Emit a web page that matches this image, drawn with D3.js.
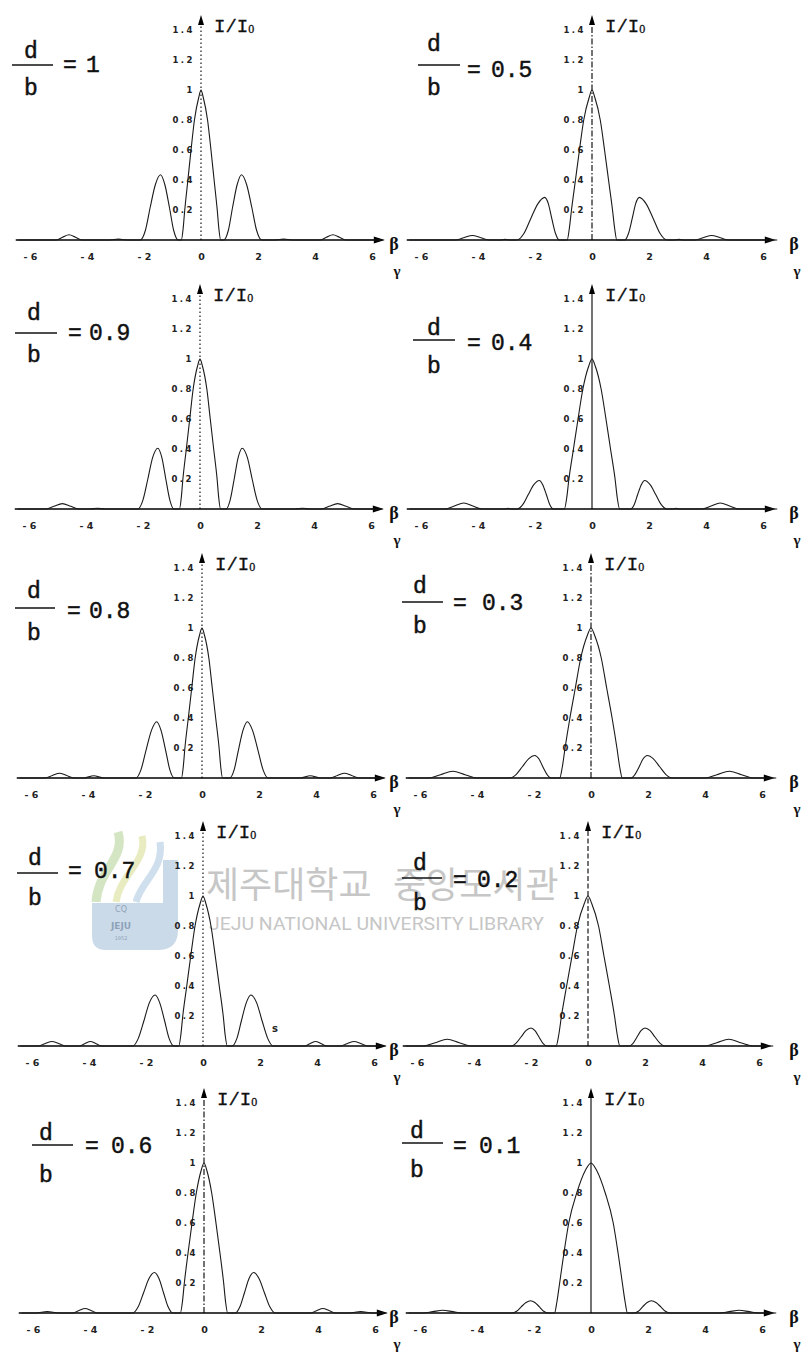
<!DOCTYPE html>
<html>
<head>
<meta charset="utf-8">
<script src="https://cdn.jsdelivr.net/npm/d3@7/dist/d3.min.js"></script>
<style>
  html, body { margin: 0; padding: 0; background: #fff; }
  svg { display: block; }
</style>
</head>
<body>
<svg id="chart" width="807" height="1358"></svg>
<script>
// ---- data -------------------------------------------------------------
// slit ratio d/b shown in each panel (row by row, left then right)
const ratios = ["1", "0.5", "0.9", "0.4", "0.8", "0.3", "0.7", "0.2", "0.6", "0.1"];

// shared axis ticks
const xTicks = [-6, -4, -2, 0, 2, 4, 6];
const yTicks = [0.2, 0.4, 0.6, 0.8, 1, 1.2, 1.4];
const yTickLabels = ["0.2", "0.4", "0.6", "0.8", "1", "1.2", "1.4"];

// intensity profiles I/I0 against beta, one per ratio
const curve_10 = [[-6.4,0],[-5.1,0],[-4.86,0.018],[-4.63,0.035],[-4.4,0.018],[-4.16,0],[-3.2,0],[-2.9,0.006],[-2.6,0],[-2.13,0],[-1.95,0.065],[-1.78,0.22],[-1.6,0.37],[-1.42,0.435],[-1.27,0.37],[-1.11,0.22],[-0.96,0.065],[-0.8,0],[-0.69,0],[-0.63,0.07],[-0.57,0.2],[-0.46,0.4],[-0.35,0.6],[-0.23,0.8],[-0.08,0.95],[0,1],[0.08,0.95],[0.23,0.8],[0.35,0.6],[0.46,0.4],[0.57,0.2],[0.63,0.07],[0.69,0],[0.8,0],[0.96,0.065],[1.11,0.22],[1.27,0.37],[1.42,0.435],[1.6,0.37],[1.78,0.22],[1.95,0.065],[2.13,0],[2.6,0],[2.9,0.006],[3.2,0],[4.16,0],[4.4,0.018],[4.63,0.035],[4.86,0.018],[5.1,0],[6.4,0]];

const curve_05 = [[-6.4,0],[-4.8,0],[-4.5,0.015],[-4.2,0.03],[-3.9,0.015],[-3.6,0],[-3.25,0],[-3.05,0.004],[-2.85,0],[-2.63,0],[-2.39,0.043],[-2.15,0.142],[-1.9,0.241],[-1.66,0.284],[-1.53,0.241],[-1.41,0.142],[-1.28,0.043],[-1.15,0],[-0.87,0],[-0.8,0.07],[-0.72,0.2],[-0.58,0.4],[-0.44,0.6],[-0.29,0.8],[-0.1,0.95],[0,1],[0.1,0.95],[0.29,0.8],[0.44,0.6],[0.58,0.4],[0.72,0.2],[0.8,0.07],[0.87,0],[1.15,0],[1.28,0.043],[1.41,0.142],[1.53,0.241],[1.66,0.284],[1.9,0.241],[2.15,0.142],[2.39,0.043],[2.63,0],[2.85,0],[3.05,0.004],[3.25,0],[3.6,0],[3.9,0.015],[4.2,0.03],[4.5,0.015],[4.8,0],[6.5,0]];

const curve_09 = [[-6.4,0],[-5.43,0],[-5.13,0.018],[-4.83,0.036],[-4.53,0.018],[-4.23,0],[-3.85,0],[-3.6,0.005],[-3.35,0],[-2.18,0],[-2.0,0.061],[-1.83,0.2],[-1.66,0.344],[-1.48,0.405],[-1.34,0.344],[-1.2,0.2],[-1.06,0.061],[-0.92,0],[-0.72,0],[-0.66,0.07],[-0.6,0.2],[-0.48,0.4],[-0.36,0.6],[-0.24,0.8],[-0.09,0.95],[0,1],[0.09,0.95],[0.24,0.8],[0.36,0.6],[0.48,0.4],[0.6,0.2],[0.66,0.07],[0.72,0],[0.92,0],[1.06,0.061],[1.2,0.2],[1.34,0.344],[1.48,0.405],[1.66,0.344],[1.83,0.2],[2.0,0.061],[2.18,0],[3.35,0],[3.6,0.005],[3.85,0],[4.23,0],[4.53,0.018],[4.83,0.036],[5.13,0.018],[5.43,0],[6.4,0]];

const curve_04 = [[-6.4,0],[-5.15,0],[-4.83,0.02],[-4.5,0.04],[-4.18,0.02],[-3.85,0],[-3.1,0],[-2.95,0.004],[-2.8,0],[-2.62,0],[-2.43,0.029],[-2.24,0.095],[-2.04,0.162],[-1.85,0.19],[-1.73,0.162],[-1.6,0.095],[-1.48,0.029],[-1.35,0],[-0.97,0],[-0.89,0.07],[-0.81,0.2],[-0.65,0.4],[-0.49,0.6],[-0.32,0.8],[-0.12,0.95],[0,1],[0.12,0.95],[0.32,0.8],[0.49,0.6],[0.65,0.4],[0.81,0.2],[0.89,0.07],[0.97,0],[1.35,0],[1.48,0.029],[1.6,0.095],[1.73,0.162],[1.85,0.19],[2.04,0.162],[2.24,0.095],[2.43,0.029],[2.62,0],[2.8,0],[2.95,0.004],[3.1,0],[3.85,0],[4.18,0.02],[4.5,0.04],[4.83,0.02],[5.15,0],[6.5,0]];

const curve_08 = [[-6.4,0],[-5.5,0],[-5.25,0.016],[-5.0,0.032],[-4.75,0.016],[-4.5,0],[-4.15,0],[-3.8,0.015],[-3.45,0],[-2.32,0],[-2.14,0.056],[-1.96,0.188],[-1.77,0.319],[-1.59,0.375],[-1.44,0.319],[-1.28,0.188],[-1.13,0.056],[-0.97,0],[-0.72,0],[-0.66,0.07],[-0.6,0.2],[-0.48,0.4],[-0.36,0.6],[-0.24,0.8],[-0.09,0.95],[0,1],[0.09,0.95],[0.24,0.8],[0.36,0.6],[0.48,0.4],[0.6,0.2],[0.66,0.07],[0.72,0],[0.97,0],[1.13,0.056],[1.28,0.188],[1.44,0.319],[1.59,0.375],[1.77,0.319],[1.96,0.188],[2.14,0.056],[2.32,0],[3.45,0],[3.8,0.015],[4.15,0],[4.5,0],[4.75,0.016],[5.0,0.032],[5.25,0.016],[5.5,0],[6.4,0]];

const curve_03 = [[-6.4,0],[-5.7,0],[-5.28,0.022],[-4.85,0.045],[-4.42,0.022],[-4.0,0],[-2.85,0],[-2.63,0.023],[-2.41,0.075],[-2.19,0.128],[-1.97,0.15],[-1.83,0.128],[-1.69,0.075],[-1.54,0.023],[-1.4,0],[-1.1,0],[-1.01,0.07],[-0.91,0.2],[-0.74,0.4],[-0.55,0.6],[-0.36,0.8],[-0.13,0.95],[0,1],[0.13,0.95],[0.36,0.8],[0.55,0.6],[0.74,0.4],[0.91,0.2],[1.01,0.07],[1.1,0],[1.4,0],[1.54,0.023],[1.69,0.075],[1.83,0.128],[1.97,0.15],[2.19,0.128],[2.41,0.075],[2.63,0.023],[2.85,0],[4.0,0],[4.42,0.022],[4.85,0.045],[5.28,0.022],[5.7,0],[6.5,0]];

const curve_07 = [[-6.4,0],[-5.8,0],[-5.55,0.015],[-5.3,0.03],[-5.05,0.015],[-4.8,0],[-4.35,0],[-4.15,0.015],[-3.95,0.03],[-3.75,0.015],[-3.55,0],[-2.46,0],[-2.27,0.051],[-2.07,0.17],[-1.88,0.289],[-1.68,0.34],[-1.52,0.289],[-1.35,0.17],[-1.19,0.051],[-1.02,0],[-0.85,0],[-0.78,0.07],[-0.71,0.2],[-0.57,0.4],[-0.43,0.6],[-0.28,0.8],[-0.1,0.95],[0,1],[0.1,0.95],[0.28,0.8],[0.43,0.6],[0.57,0.4],[0.71,0.2],[0.78,0.07],[0.85,0],[1.02,0],[1.19,0.051],[1.35,0.17],[1.52,0.289],[1.68,0.34],[1.88,0.289],[2.07,0.17],[2.27,0.051],[2.46,0],[3.55,0],[3.75,0.015],[3.95,0.03],[4.15,0.015],[4.35,0],[4.8,0],[5.05,0.015],[5.3,0.03],[5.55,0.015],[5.8,0],[6.4,0]];

const curve_02 = [[-6.4,0],[-5.8,0],[-5.36,0.022],[-4.94,0.045],[-4.52,0.022],[-4.1,0],[-2.7,0],[-2.53,0.018],[-2.35,0.06],[-2.18,0.102],[-2.0,0.12],[-1.86,0.102],[-1.72,0.06],[-1.58,0.018],[-1.44,0],[-1.12,0],[-1.03,0.07],[-0.93,0.2],[-0.75,0.4],[-0.56,0.6],[-0.37,0.8],[-0.13,0.95],[0,1],[0.13,0.95],[0.37,0.8],[0.56,0.6],[0.75,0.4],[0.93,0.2],[1.03,0.07],[1.12,0],[1.44,0],[1.58,0.018],[1.72,0.06],[1.86,0.102],[2.0,0.12],[2.18,0.102],[2.35,0.06],[2.53,0.018],[2.7,0],[4.1,0],[4.52,0.022],[4.94,0.045],[5.36,0.022],[5.8,0],[6.5,0]];

const curve_06 = [[-6.4,0],[-5.9,0],[-5.5,0.01],[-5.1,0],[-4.62,0],[-4.4,0.015],[-4.17,0.03],[-3.95,0.015],[-3.72,0],[-2.5,0],[-2.31,0.041],[-2.12,0.135],[-1.93,0.23],[-1.74,0.27],[-1.58,0.23],[-1.42,0.135],[-1.26,0.041],[-1.1,0],[-0.83,0],[-0.76,0.07],[-0.69,0.2],[-0.56,0.4],[-0.42,0.6],[-0.27,0.8],[-0.1,0.95],[0,1],[0.1,0.95],[0.27,0.8],[0.42,0.6],[0.56,0.4],[0.69,0.2],[0.76,0.07],[0.83,0],[1.1,0],[1.26,0.041],[1.42,0.135],[1.58,0.23],[1.74,0.27],[1.93,0.23],[2.12,0.135],[2.31,0.041],[2.5,0],[3.72,0],[3.95,0.015],[4.17,0.03],[4.4,0.015],[4.62,0],[5.1,0],[5.5,0.01],[5.9,0],[6.4,0]];

const curve_01 = [[-6.4,0],[-5.9,0],[-5.55,0.009],[-5.2,0.018],[-4.85,0.009],[-4.5,0],[-2.77,0],[-2.61,0.012],[-2.45,0.041],[-2.28,0.07],[-2.12,0.082],[-1.97,0.07],[-1.81,0.041],[-1.66,0.012],[-1.5,0],[-1.28,0],[-1.2,0.07],[-1.1,0.2],[-0.95,0.4],[-0.78,0.6],[-0.5,0.8],[-0.2,0.95],[0,1],[0.2,0.95],[0.5,0.8],[0.78,0.6],[0.95,0.4],[1.1,0.2],[1.2,0.07],[1.28,0],[1.5,0],[1.66,0.012],[1.81,0.041],[1.97,0.07],[2.12,0.082],[2.28,0.07],[2.45,0.041],[2.61,0.012],[2.77,0],[4.5,0],[4.85,0.009],[5.2,0.018],[5.55,0.009],[5.9,0],[6.5,0]];

const curves = [curve_10, curve_05, curve_09, curve_04, curve_08, curve_03, curve_07, curve_02, curve_06, curve_01];

// ---- layout -----------------------------------------------------------
const rowBase = [240, 509, 778, 1046, 1313];          // pixel row of I = 0
const centerX = [201, 592, 200, 592, 202, 591, 203, 588, 204, 591]; // pixel column of beta = 0
const pxPerUnit = 28.5;
const pxPerIntensity = 150;
// dash pattern of the vertical axis in each panel
const yAxisDash = ["1.5,2.5", "6,2,1.5,2", "1.5,2.5", null, "1.5,2.5", "6,2,1.5,2", "1.5,2.5", "5,2.5", "6,2,1.5,2", null];
// fraction label: [letterX, lineX1, lineX2, lineY, dBaseline, bBaseline, eqX, valX, valBaseline]
const fracPos = [
  [31, 12, 53, 65, 58, 95, 63, 86, 72],
  [434, 418, 460, 65, 51, 95, 467, 491, 77],
  [34, 15, 57, 333, 320, 362, 68, 89, 340],
  [434, 413, 455, 340, 335, 373, 467, 491, 350],
  [34, 15, 55, 608, 598, 640, 67, 89, 618],
  [420, 402, 443, 602, 593, 633, 453, 482, 610],
  [35, 17, 58, 873, 865, 905, 68, 94, 878],
  [420, 402, 442, 878, 870, 910, 453, 477, 887],
  [46, 32, 73, 1145, 1140, 1182, 85, 111, 1153],
  [417, 402, 443, 1143, 1138, 1177, 453, 479, 1153]
];

const svg = d3.select("#chart");
svg.append("rect").attr("width", 807).attr("height", 1358).attr("fill", "#fff");

// ---- library watermark (behind the plots) -----------------------------
const wm = svg.append("g").attr("class", "watermark");
wm.append("path")
  .attr("d", "M163,860 L178,860 L178,930 Q178,950 158,950 L106,950 Q92,950 92,936 L92,903 L163,903 Z")
  .attr("fill", "#b9cde0").attr("opacity", 0.75);
wm.append("path").attr("d", "M96,902 C98,870 126,858 118,832")
  .attr("fill", "none").attr("stroke", "#c9dfb4").attr("stroke-width", 9).attr("opacity", 0.8);
wm.append("path").attr("d", "M116,902 C120,874 148,862 142,836")
  .attr("fill", "none").attr("stroke", "#e3e7b0").attr("stroke-width", 7).attr("opacity", 0.8);
wm.append("path").attr("d", "M136,902 C142,880 164,870 160,842")
  .attr("fill", "none").attr("stroke", "#c3d7e8").attr("stroke-width", 7).attr("opacity", 0.8);
wm.append("text").attr("x", 121).attr("y", 912).attr("text-anchor", "middle")
  .attr("font-family", "DejaVu Sans").attr("font-size", 8).attr("fill", "#8ea3ba").text("CQ");
wm.append("text").attr("x", 121).attr("y", 929).attr("text-anchor", "middle")
  .attr("font-family", "DejaVu Sans").attr("font-weight", "bold").attr("font-size", 9).attr("fill", "#8ea3ba").text("JEJU");
wm.append("text").attr("x", 121).attr("y", 940).attr("text-anchor", "middle")
  .attr("font-family", "DejaVu Sans").attr("font-size", 5).attr("fill", "#8ea3ba").text("1952");
wm.append("text").attr("x", 206).attr("y", 898)
  .attr("font-family", "Noto Sans CJK KR").attr("font-size", 36).attr("fill", "#c6c6c6").text("제주대학교");
wm.append("text").attr("x", 393).attr("y", 898)
  .attr("font-family", "Noto Sans CJK KR").attr("font-size", 36).attr("fill", "#c6c6c6").text("중앙도서관");
wm.append("text").attr("x", 209).attr("y", 930)
  .attr("font-family", "Roboto").attr("font-size", 19).attr("fill", "#c6c6c6")
  .attr("textLength", 335).attr("lengthAdjust", "spacingAndGlyphs")
  .text("JEJU NATIONAL UNIVERSITY LIBRARY");

// ---- panels -----------------------------------------------------------
const monoFont = "'Liberation Mono', 'Courier New', monospace";

ratios.forEach((ratio, i) => {
  const row = Math.floor(i / 2), col = i % 2;
  const base = rowBase[row];
  const cx = centerX[i];
  const x = d3.scaleLinear().domain([-6, 6]).range([cx - 6 * pxPerUnit, cx + 6 * pxPerUnit]);
  const y = d3.scaleLinear().domain([0, 1.5]).range([base, base - 1.5 * pxPerIntensity]);
  const g = svg.append("g").attr("class", "panel");

  // horizontal axis with arrow
  const xa = g.append("g").attr("transform", `translate(0,${base})`)
    .call(d3.axisBottom(x).tickValues(xTicks).tickSize(0).tickPadding(13)
      .tickFormat(d => d < 0 ? "- " + Math.abs(d) : String(d)));
  xa.select(".domain").remove();
  xa.selectAll("text")
    .attr("font-family", "DejaVu Sans").attr("font-weight", "bold")
    .attr("font-size", 9.5).attr("fill", "#222");
  const tipX = x(6.45);
  g.append("line").attr("x1", x(-6.5)).attr("x2", tipX - 6)
    .attr("y1", base).attr("y2", base).attr("stroke", "#000").attr("stroke-width", 1.3);
  g.append("path").attr("d", `M${tipX},${base} L${tipX - 11},${base - 3.5} L${tipX - 11},${base + 3.5} Z`)
    .attr("fill", "#000");

  // vertical axis with arrow
  const ya = g.append("g").attr("transform", `translate(${cx},0)`)
    .call(d3.axisLeft(y).tickValues(yTicks).tickSize(0).tickPadding(6)
      .tickFormat((d, k) => yTickLabels[k]));
  ya.select(".domain").remove();
  ya.selectAll("text")
    .attr("font-family", "DejaVu Sans").attr("font-weight", "bold")
    .attr("font-size", 8.5).attr("letter-spacing", 2.5).attr("fill", "#222");
  const tipY = y(1.5);
  g.append("line").attr("x1", cx).attr("x2", cx).attr("y1", base).attr("y2", tipY + 6)
    .attr("stroke", "#000").attr("stroke-width", 1.1)
    .attr("stroke-dasharray", yAxisDash[i]);
  g.append("path").attr("d", `M${cx},${tipY} L${cx - 3},${tipY + 10} L${cx + 3},${tipY + 10} Z`)
    .attr("fill", "#000");

  // intensity curve
  const line = d3.line().x(d => x(d[0])).y(d => y(d[1])).curve(d3.curveMonotoneX);
  g.append("path").datum(curves[i]).attr("d", line)
    .attr("fill", "none").attr("stroke", "#1a1a1a").attr("stroke-width", 1.1);

  // axis names
  const t = g.append("text").attr("x", cx + 13).attr("y", base - 208)
    .attr("font-family", monoFont).attr("font-size", 19).attr("fill", "#111")
    .attr("stroke", "#111").attr("stroke-width", 0.3);
  t.append("tspan").text("I/I");
  t.append("tspan").attr("font-family", "'Liberation Serif', serif")
    .attr("font-size", 12).attr("dy", 1).text("0");
  g.append("text").attr("x", col === 0 ? 394 : 794).attr("y", base + 4)
    .attr("dominant-baseline", "central").attr("text-anchor", "middle")
    .attr("font-family", "'Liberation Serif', serif").attr("font-weight", "bold")
    .attr("font-size", 18).attr("fill", "#111").text("β");
  g.append("text").attr("x", col === 0 ? 397 : 797).attr("y", base + 31)
    .attr("dominant-baseline", "central").attr("text-anchor", "middle")
    .attr("font-family", "'Liberation Serif', serif").attr("font-weight", "bold")
    .attr("font-size", 15).attr("fill", "#111").text("γ");

  // d/b = value
  const [lx, x1, x2, ly, dB, bB, eqX, vX, vB] = fracPos[i];
  g.append("line").attr("x1", x1).attr("x2", x2).attr("y1", ly).attr("y2", ly)
    .attr("stroke", "#111").attr("stroke-width", 1.4);
  const label = (tx, ty, s) => g.append("text").attr("x", tx).attr("y", ty)
    .attr("font-family", monoFont).attr("font-size", 23).attr("fill", "#111")
    .attr("stroke", "#111").attr("stroke-width", 0.45).text(s);
  label(lx, dB, "d").attr("text-anchor", "middle");
  label(lx, bB, "b").attr("text-anchor", "middle");
  label(eqX, vB, "=");
  label(vX, vB, ratio);
});

// small stray mark printed beside the d/b = 0.7 right lobe
svg.append("text").attr("x", 275).attr("y", 1032).attr("text-anchor", "middle")
  .attr("font-family", "DejaVu Sans").attr("font-weight", "bold").attr("font-size", 10)
  .attr("fill", "#222").text("s");
</script>
</body>
</html>
